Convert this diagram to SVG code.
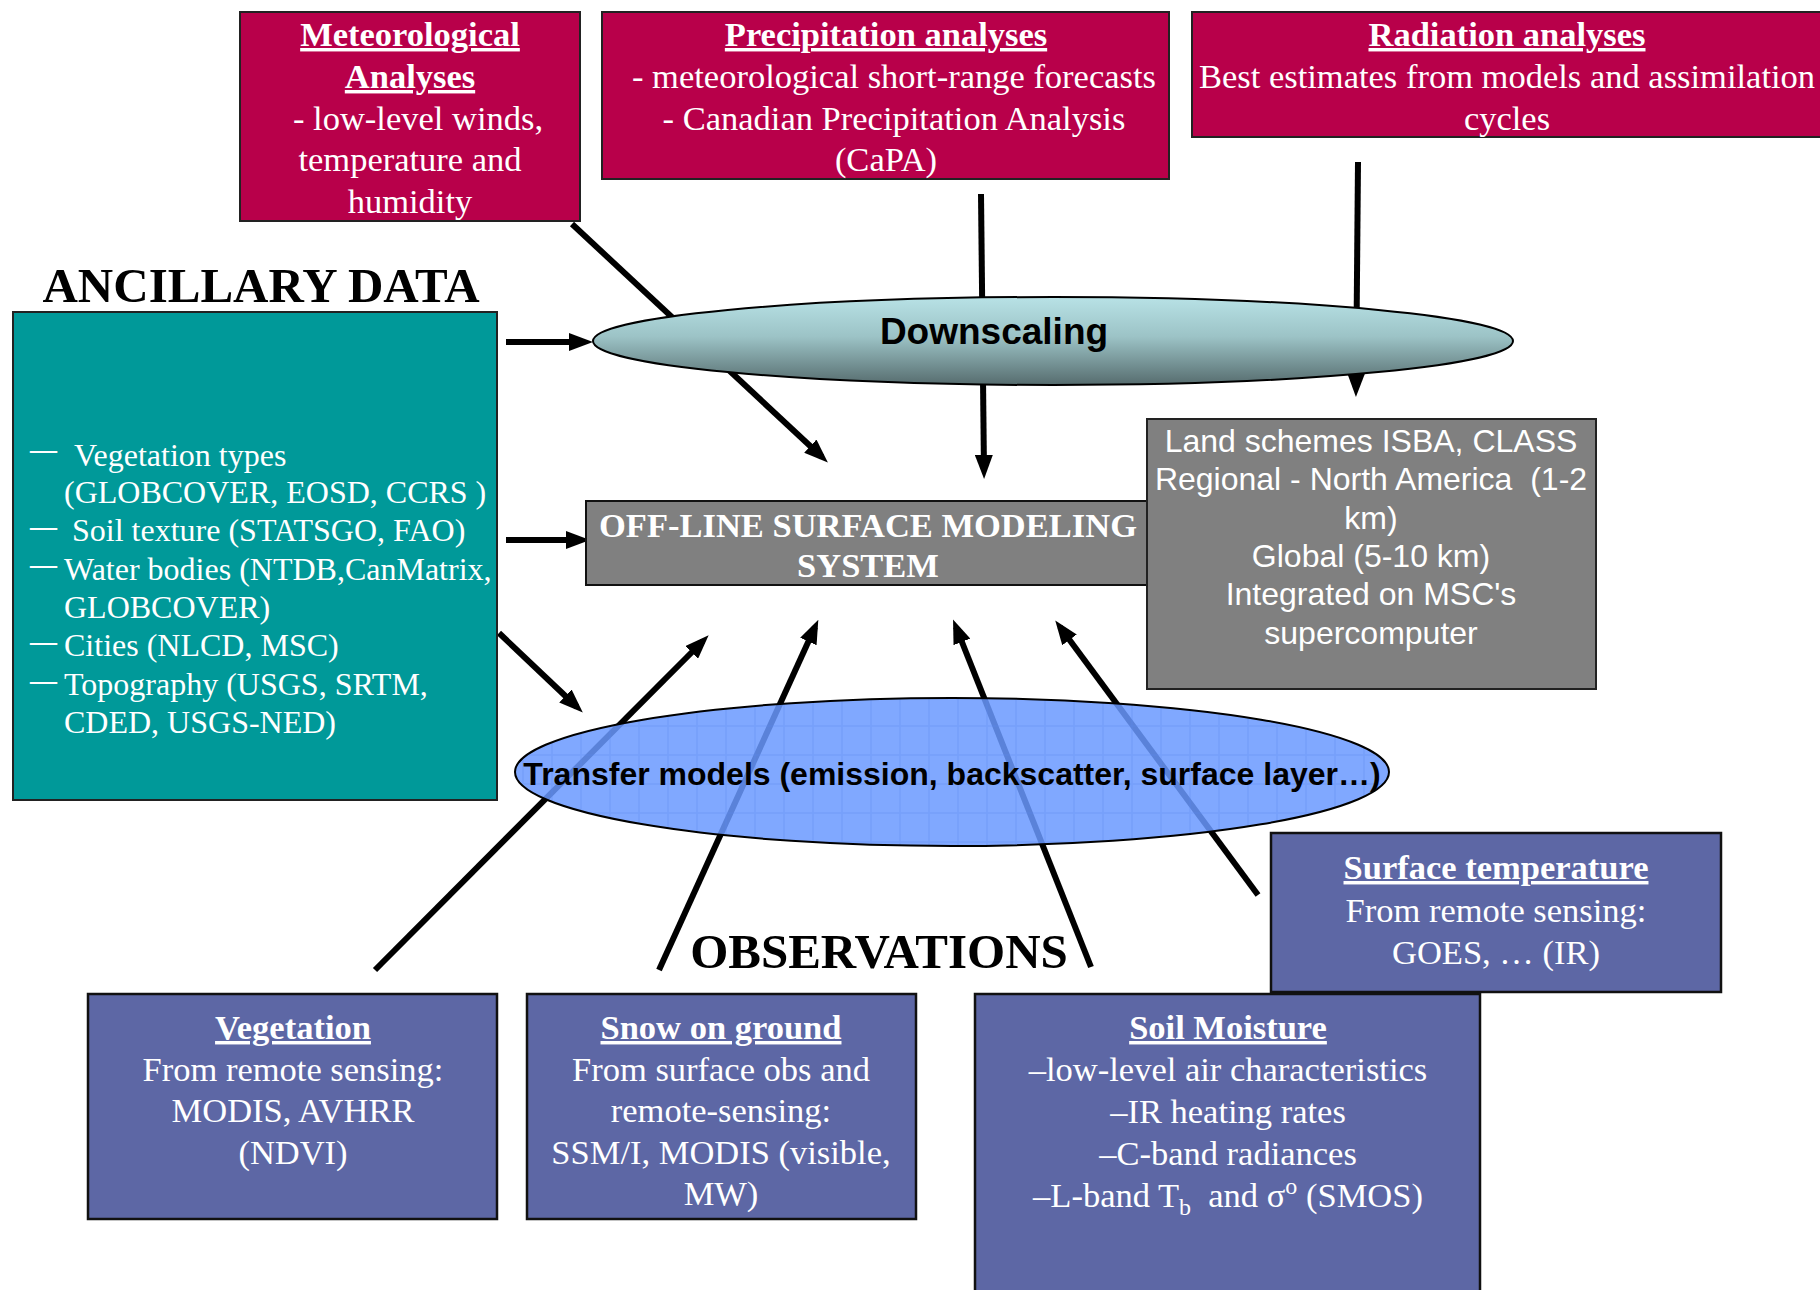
<svg xmlns="http://www.w3.org/2000/svg" width="1820" height="1290" viewBox="0 0 1820 1290">
<defs>
<style>
.serif{font-family:"Liberation Serif","Times New Roman",serif;}
.sans{font-family:"Liberation Sans",Arial,sans-serif;}
.wt{fill:#ffffff;}
.c{text-anchor:middle;}
.t35{font-size:34.5px;}
.t32{font-size:32px;}
.ttl{font-weight:bold;text-decoration:underline;}
.pre{white-space:pre;}
.dash{font-size:27px;font-weight:bold;}
.red{fill:#b8004a;stroke:#222;stroke-width:2;}
.obs{fill:#5d67a5;stroke:#111;stroke-width:2.5;}
.conn{stroke:#000;stroke-width:6;fill:none;marker-end:url(#ah);}
</style>
<marker id="ah" viewBox="0 0 24 18" markerWidth="24" markerHeight="18" refX="16" refY="9" orient="auto" markerUnits="userSpaceOnUse">
<path d="M0,0 L24,9 L0,18 z" fill="#000"/>
</marker>
<linearGradient id="dsg" x1="0" y1="0" x2="0" y2="1">
<stop offset="0" stop-color="#b8e2e6"/>
<stop offset="0.45" stop-color="#9cc3c6"/>
<stop offset="1" stop-color="#566c6e"/>
</linearGradient>
<pattern id="grid" width="29" height="29" patternUnits="userSpaceOnUse">
<path d="M0,1 H29 M1,0 V29" stroke="#5a88ee" stroke-width="1.5" fill="none"/>
</pattern>
</defs>
<rect width="1820" height="1290" fill="#ffffff"/>

<g id="connectors">
<line class="conn" x1="572" y1="224" x2="822" y2="457"/>
<line class="conn" x1="981" y1="194" x2="984" y2="471"/>
<line class="conn" x1="1358" y1="162" x2="1356" y2="389"/>
<line class="conn" x1="506" y1="342" x2="585" y2="342"/>
<line class="conn" x1="506" y1="540" x2="582" y2="540"/>
<line class="conn" x1="499" y1="633" x2="577" y2="707"/>
<line class="conn" x1="375" y1="970" x2="703" y2="641"/>
<line class="conn" x1="659" y1="970" x2="815" y2="627"/>
<line class="conn" x1="1091" y1="967" x2="956" y2="627"/>
<line class="conn" x1="1258" y1="895" x2="1060" y2="627"/>
</g>

<g id="met-analyses">
<rect class="red" x="240" y="12" width="340" height="209"/>
<text class="serif wt c t35 ttl" x="410" y="46">Meteorological</text>
<text class="serif wt c t35 ttl" x="410" y="88">Analyses</text>
<text class="serif wt c t35" x="418" y="130">- low-level winds,</text>
<text class="serif wt c t35" x="410" y="171">temperature and</text>
<text class="serif wt c t35" x="410" y="213">humidity</text>
</g>

<g id="precip-analyses">
<rect class="red" x="602" y="12" width="567" height="167"/>
<text class="serif wt c t35 ttl" x="886" y="46">Precipitation analyses</text>
<text class="serif wt c t35" x="894" y="88">- meteorological short-range forecasts</text>
<text class="serif wt c t35" x="894" y="130">- Canadian Precipitation Analysis</text>
<text class="serif wt c t35" x="886" y="171">(CaPA)</text>
</g>

<g id="radiation-analyses">
<rect class="red" x="1192" y="12" width="632" height="125"/>
<text class="serif wt c t35 ttl" x="1507" y="46">Radiation analyses</text>
<text class="serif wt c t35" x="1507" y="88">Best estimates from models and assimilation</text>
<text class="serif wt c t35" x="1507" y="130">cycles</text>
</g>

<g id="ancillary-data">
<text class="serif c" x="261" y="302" font-size="49" font-weight="bold" fill="#000">ANCILLARY DATA</text>
<rect x="13" y="312" width="484" height="488" fill="#009999" stroke="#222" stroke-width="2"/>
<g class="serif wt t32">
<text class="dash" x="30" y="458">—</text>
<text x="74" y="466">Vegetation types</text>
<text x="64" y="503">(GLOBCOVER, EOSD, CCRS )</text>
<text class="dash" x="30" y="535">—</text>
<text x="72" y="541">Soil texture (STATSGO, FAO)</text>
<text class="dash" x="30" y="573">—</text>
<text x="64" y="580">Water bodies (NTDB,CanMatrix,</text>
<text x="64" y="618">GLOBCOVER)</text>
<text class="dash" x="30" y="650">—</text>
<text x="64" y="656">Cities (NLCD, MSC)</text>
<text class="dash" x="30" y="689">—</text>
<text x="64" y="695">Topography (USGS, SRTM,</text>
<text x="64" y="733">CDED, USGS-NED)</text>
</g>
</g>

<g id="downscaling">
<ellipse cx="1053" cy="341" rx="460" ry="44" fill="url(#dsg)" stroke="#000" stroke-width="2"/>
<text class="sans c" x="994" y="344" font-size="37" font-weight="bold" fill="#000">Downscaling</text>
</g>

<g id="offline-system">
<rect x="586" y="501" width="563" height="84" fill="#808080" stroke="#111" stroke-width="2"/>
<text class="serif wt c" x="868" y="537" font-size="34.5" font-weight="bold">OFF-LINE SURFACE MODELING</text>
<text class="serif wt c" x="868" y="577" font-size="34.5" font-weight="bold">SYSTEM</text>
</g>

<g id="land-schemes">
<rect x="1147" y="419" width="449" height="270" fill="#808080" stroke="#222" stroke-width="2"/>
<g class="sans wt c t32">
<text x="1371" y="452">Land schemes ISBA, CLASS</text>
<text class="pre" x="1371" y="490">Regional - North America  (1-2</text>
<text x="1371" y="529">km)</text>
<text x="1371" y="567">Global (5-10 km)</text>
<text x="1371" y="605">Integrated on MSC's</text>
<text x="1371" y="644">supercomputer</text>
</g>
</g>

<g id="transfer-models">
<ellipse cx="952" cy="772" rx="437" ry="74" fill="#6a99ff" fill-opacity="0.85"/>
<ellipse cx="952" cy="772" rx="437" ry="74" fill="url(#grid)" fill-opacity="0.28" stroke="#000" stroke-width="2"/>
<text class="sans c" x="952" y="785" font-size="32" font-weight="bold" fill="#000">Transfer models (emission, backscatter, surface layer…)</text>
</g>

<g id="surface-temperature">
<rect class="obs" x="1271" y="833" width="450" height="159"/>
<text class="serif wt c t35 ttl" x="1496" y="879">Surface temperature</text>
<text class="serif wt c t35" x="1496" y="922">From remote sensing:</text>
<text class="serif wt c t35" x="1496" y="964">GOES, … (IR)</text>
</g>

<text id="observations-label" class="serif c" x="879" y="968" font-size="49" font-weight="bold" fill="#000">OBSERVATIONS</text>

<g id="vegetation">
<rect class="obs" x="88" y="994" width="409" height="225"/>
<text class="serif wt c t35 ttl" x="293" y="1039">Vegetation</text>
<text class="serif wt c t35" x="293" y="1081">From remote sensing:</text>
<text class="serif wt c t35" x="293" y="1122">MODIS, AVHRR</text>
<text class="serif wt c t35" x="293" y="1164">(NDVI)</text>
</g>

<g id="snow">
<rect class="obs" x="527" y="994" width="389" height="225"/>
<text class="serif wt c t35 ttl" x="721" y="1039">Snow on ground</text>
<text class="serif wt c t35" x="721" y="1081">From surface obs and</text>
<text class="serif wt c t35" x="721" y="1122">remote-sensing:</text>
<text class="serif wt c t35" x="721" y="1164">SSM/I, MODIS (visible,</text>
<text class="serif wt c t35" x="721" y="1205">MW)</text>
</g>

<g id="soil-moisture">
<rect class="obs" x="975" y="994" width="505" height="310"/>
<text class="serif wt c t35 ttl" x="1228" y="1039">Soil Moisture</text>
<text class="serif wt c t35" x="1228" y="1081">–low-level air characteristics</text>
<text class="serif wt c t35" x="1228" y="1123">–IR heating rates</text>
<text class="serif wt c t35" x="1228" y="1165">–C-band radiances</text>
<text class="serif wt c t35 pre" x="1228" y="1207">–L-band T<tspan font-size="24" dy="8">b</tspan><tspan dy="-8">  and σ</tspan><tspan font-size="24" dy="-13">o</tspan><tspan dy="13"> (SMOS)</tspan></text>
</g>
</svg>
